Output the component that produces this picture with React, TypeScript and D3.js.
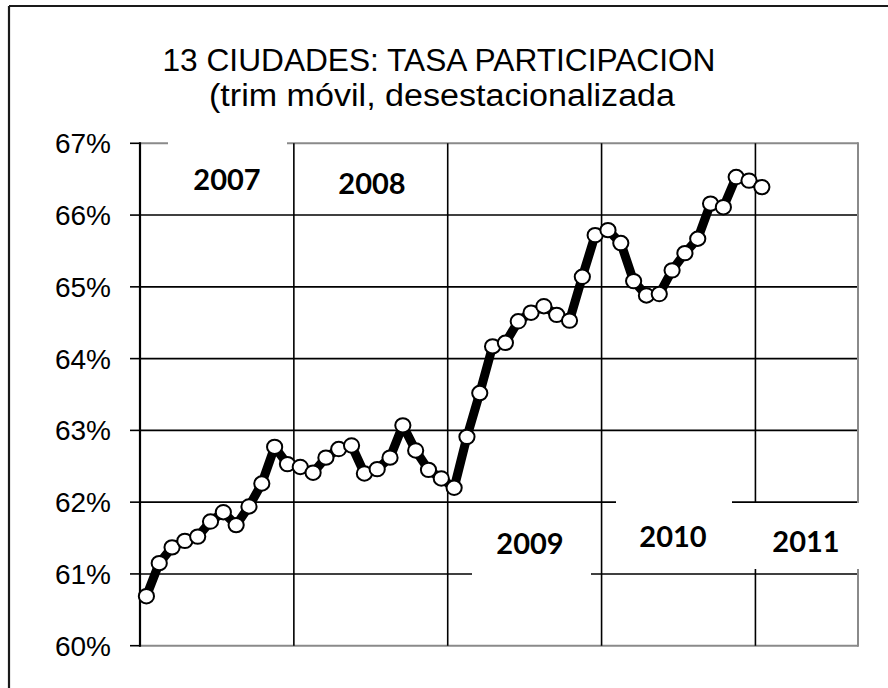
import React from "react";
import * as d3 from "d3";

const monthNames = ["ene", "feb", "mar", "abr", "may", "jun", "jul", "ago", "sep", "oct", "nov", "dic"];
const years = ["2007", "2008", "2009", "2010", "2011"];
// 56 monthly categories: ene-07 .. ago-11
const categories: string[] = [];
years.forEach((yr) => monthNames.forEach((m) => categories.push(`${m}-${yr.slice(2)}`)));
categories.splice(56);

const values = [
  60.69, 61.15, 61.37, 61.46, 61.52, 61.73, 61.86, 61.68, 61.94, 62.26, 62.77, 62.53,
  62.49, 62.41, 62.62, 62.74, 62.79, 62.40, 62.46, 62.62, 63.07, 62.72, 62.45, 62.33,
  62.20, 62.91, 63.52, 64.17, 64.22, 64.52, 64.64, 64.73, 64.61, 64.53, 65.14, 65.72,
  65.79, 65.61, 65.08, 64.88, 64.90, 65.23, 65.47, 65.67, 66.16, 66.11, 66.53, 66.48,
  66.39,
];

const yTicks = [60, 61, 62, 63, 64, 65, 66, 67];
const titleLines = ["13 CIUDADES: TASA PARTICIPACION", "(trim móvil, desestacionalizada"];
const yearLabels = ["2007", "2008", "2009", "2010", "2011"];

export default function App() {
  const W = 888, H = 688;
  const left = 140, right = 858, top = 143.3, bottom = 645.7;
  const x = d3.scaleBand<string>().domain(categories).range([left, right]).padding(0);
  const y = d3.scaleLinear().domain([60, 67]).range([bottom, top]);
  const bw = x.bandwidth();
  const cx = (i: number) => (x(categories[i]) as number) + bw / 2;

  const line = d3
    .line<number>()
    .x((_, i) => cx(i))
    .y((d) => y(d));

  const yearBoundaries = [12, 24, 36, 48].map((i) => x(categories[i]) as number);

  // label boxes (white masks) and label positions
  const boxes = [
    { x0: 168, x1: 287, y0: 138, y1: 205 },
    { x0: 472, x1: 591, y0: 506, y1: 600 },
    { x0: 616, x1: 732, y0: 498, y1: 566 },
    { x0: 745, x1: 875, y0: 503, y1: 569 },
  ];
  const labelPos = [
    { cx: 227, by: 190 },
    { cx: 372, by: 194 },
    { cx: 530, by: 554 },
    { cx: 673, by: 547 },
    { cx: 806, by: 552 },
  ];
  const titleLayout = [
    { cx: 439, by: 71, len: 553 },
    { cx: 442, by: 106, len: 466 },
  ];

  return (
    <svg
      width={W}
      height={H}
      style={{ position: "absolute", left: 0, top: 0, background: "#fff" }}
      fontFamily="'Liberation Sans', Arial, sans-serif"
    >
      <rect x={0} y={0} width={W} height={H} fill="#fff" />
      {/* outer chart border (cropped) */}
      <line x1={9} y1={6} x2={W + 5} y2={6} stroke="#1a1a1a" strokeWidth={2.2} />
      <line x1={9} y1={6} x2={9} y2={H + 5} stroke="#1a1a1a" strokeWidth={2.2} />

      {/* title */}
      {titleLines.map((t, i) => (
        <text
          key={i}
          x={titleLayout[i].cx}
          y={titleLayout[i].by}
          textAnchor="middle"
          fontSize={31}
          textLength={titleLayout[i].len}
          lengthAdjust="spacingAndGlyphs"
          fill="#000"
        >
          {t}
        </text>
      ))}

      {/* horizontal gridlines */}
      {yTicks.map((v) => {
        const edge = v === 60 || v === 67;
        return (
          <g key={v}>
            <line
              x1={left}
              x2={right}
              y1={y(v)}
              y2={y(v)}
              stroke={edge ? "#8a8a8a" : "#000"}
              strokeWidth={edge ? 2 : 1.6}
            />
            <line x1={130} x2={left} y1={y(v)} y2={y(v)} stroke="#000" strokeWidth={1.6} />
            <text x={111} y={y(v) + 10} textAnchor="end" fontSize={28} fill="#000">
              {v}%
            </text>
          </g>
        );
      })}
      {/* vertical year gridlines */}
      {yearBoundaries.map((bx, i) => (
        <line key={i} x1={bx} x2={bx} y1={top} y2={bottom} stroke="#000" strokeWidth={1.6} />
      ))}
      {/* right border */}
      <line x1={right} x2={right} y1={top - 1} y2={bottom + 1} stroke="#8a8a8a" strokeWidth={2} />
      {/* y axis */}
      <line x1={left} x2={left} y1={top - 1} y2={bottom + 1} stroke="#000" strokeWidth={2.2} />

      {/* white label boxes */}
      {boxes.map((b, i) => (
        <rect key={i} x={b.x0} y={b.y0} width={b.x1 - b.x0} height={b.y1 - b.y0} fill="#fff" />
      ))}

      {/* series */}
      <path d={line(values) || ""} fill="none" stroke="#000" strokeWidth={9} strokeLinejoin="round" />
      {values.map((v, i) => (
        <ellipse key={i} cx={cx(i)} cy={y(v)} rx={7.6} ry={7.2} fill="#fff" stroke="#000" strokeWidth={2} />
      ))}

      {/* year labels */}
      {yearLabels.map((t, i) => (
        <text
          key={t}
          x={labelPos[i].cx}
          y={labelPos[i].by}
          textAnchor="middle"
          fontSize={29}
          fontWeight={700}
          fontFamily="Lato, 'Open Sans', sans-serif"
          fill="#000"
        >
          {t}
        </text>
      ))}
    </svg>
  );
}
